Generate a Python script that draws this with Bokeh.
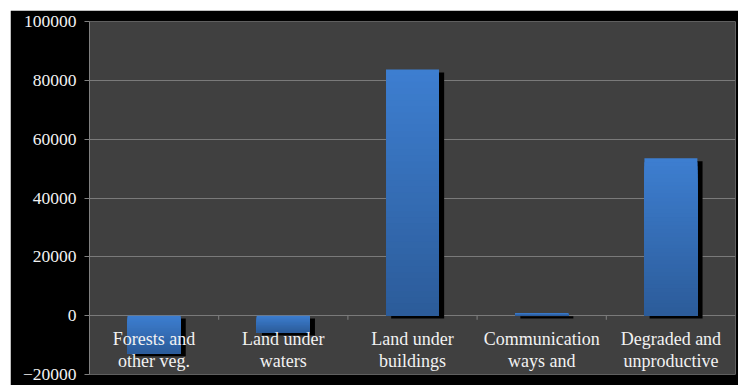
from bokeh.plotting import figure
from bokeh.models import Range1d, ColumnDataSource, LabelSet, BasicTickFormatter
from bokeh.embed import file_html
from bokeh.resources import INLINE

categories = ["Forests and\nother veg.", "Land under\nwaters", "Land under\nbuildings",
              "Communication\nways and\nrailways", "Degraded and\nunproductive\nland"]
values = [-12800, -5700, 83700, 800, 53500]
y_ticks = [-20000, 0, 20000, 40000, 60000, 80000, 100000]

FONT = "Liberation Serif"
TOP_RGB = (0x3d, 0x7e, 0xd0)
BOT_RGB = (0x2c, 0x5c, 0x9a)
BAR_W = 0.41
SHADOW_DX = 0.04
SHADOW_DY = 1000
N_SLICES = 40
LINE_STEP = 22

p = figure(width=728, height=375, output_backend="svg", toolbar_location=None,
           x_range=Range1d(-0.5, len(categories) - 0.5), y_range=Range1d(-20000, 100000),
           x_axis_location=None, min_border_left=79, min_border_top=11,
           min_border_right=3, min_border_bottom=11)
p.margin = (10, 0, 0, 10)
p.border_fill_color = "black"
p.background_fill_color = "#404040"
p.outline_line_color = None

p.xgrid.visible = False
p.ygrid.grid_line_color = "#7a7a7a"
p.ygrid.grid_line_width = 1
p.yaxis.ticker = y_ticks
p.yaxis.formatter = BasicTickFormatter(use_scientific=False)
p.yaxis.axis_line_color = "#808080"
p.yaxis.major_tick_line_color = "#808080"
p.yaxis.major_tick_out = 5
p.yaxis.major_tick_in = 0
p.yaxis.minor_tick_line_color = None
p.yaxis.major_label_text_color = "#f2f2f2"
p.yaxis.major_label_text_font = FONT
p.yaxis.major_label_text_font_size = "17.5px"
p.yaxis.major_label_standoff = 8

xs = list(range(len(categories)))

# shadows
p.vbar(x=[x + SHADOW_DX for x in xs], width=BAR_W,
       top=[max(0, v) - SHADOW_DY for v in values],
       bottom=[min(0, v) - SHADOW_DY for v in values],
       fill_color="black", line_color=None)

# gradient bars: each slice runs from its own top to the bar's bottom, drawn top-first
sx, stop, sbot, scol = [], [], [], []
for k in range(N_SLICES):
    t = k / (N_SLICES - 1)
    r, g, b = (int(round(TOP_RGB[j] + (BOT_RGB[j] - TOP_RGB[j]) * t)) for j in range(3))
    for x, v in zip(xs, values):
        hi, lo = max(0, v), min(0, v)
        sx.append(x)
        stop.append(hi - (hi - lo) * k / N_SLICES)
        sbot.append(lo)
        scol.append("#%02x%02x%02x" % (r, g, b))
p.vbar(x=sx, width=BAR_W, top=stop, bottom=sbot, fill_color=scol, line_color=None)

# category tick marks on the zero axis
bounds = [x + 0.5 for x in xs[:-1]]
p.segment(x0=bounds, x1=bounds, y0=[0] * len(bounds), y1=[-1400] * len(bounds),
          line_color="#808080", line_width=1)

# category labels, one centred row per line
lx, ly, lt, loff = [], [], [], []
for x, cat in zip(xs, categories):
    for j, line in enumerate(cat.split("\n")):
        lx.append(x)
        ly.append(0)
        lt.append(line)
        loff.append(-13 - LINE_STEP * j)
src = ColumnDataSource(dict(x=lx, y=ly, text=lt, off=loff))
labels = LabelSet(x="x", y="y", text="text", source=src, text_align="center",
                  text_baseline="top", y_offset="off", text_color="#f2f2f2",
                  text_font=FONT, text_font_size="18px")
p.add_layout(labels)

open("out.html", "w").write(file_html(p, INLINE))
